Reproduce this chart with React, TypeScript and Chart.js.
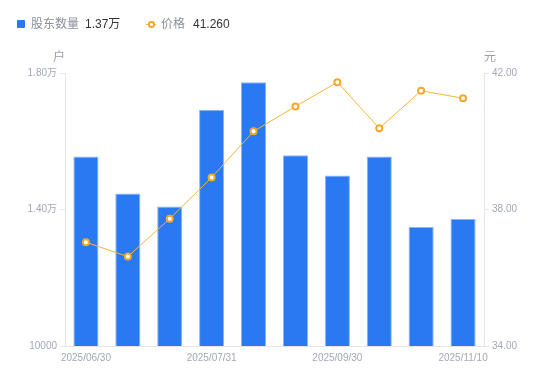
import React, { useEffect, useRef } from "react";
import { Chart, registerables } from "chart.js";

Chart.register(...registerables);

const categories = [
  "2025/06/30", "2025/07/10", "2025/07/20", "2025/07/31", "2025/08/15",
  "2025/08/31", "2025/09/30", "2025/10/20", "2025/10/31", "2025/11/10",
];
const holders = [15550, 14470, 14090, 16920, 17730, 15590, 15000, 15550, 13490, 13720];
const prices = [37.04, 36.62, 37.73, 38.94, 40.29, 41.02, 41.73, 40.38, 41.48, 41.26];
const leftTickLabels = ["10000", "1.40万", "1.80万"];
const rightTickLabels = ["34.00", "38.00", "42.00"];

const FONT = "'Liberation Sans', Arial, 'Noto Sans CJK SC', sans-serif";
const TICK_COLOR = "#a3a7b7";
const LINE_COLOR = "#e6e6ea";
const BAR_COLOR = "#2979f2";
const BAR_BORDER = "#8db6f7";
const PRICE_COLOR = "#f7b43f";
const POINT_COLOR = "#f5a82a";

export default function App() {
  const ref = useRef<HTMLCanvasElement | null>(null);

  useEffect(() => {
    document.body.style.margin = "0";
    if (!ref.current) return;
    const chart = new Chart(ref.current, {
      type: "bar",
      data: {
        labels: categories,
        datasets: [
          {
            type: "line",
            label: "价格",
            data: prices,
            yAxisID: "y1",
            borderColor: PRICE_COLOR,
            borderWidth: 1,
            pointRadius: 3,
            pointBorderWidth: 2,
            pointBackgroundColor: "#ffffff",
            pointBorderColor: POINT_COLOR,
            tension: 0,
            order: 0,
          } as any,
          {
            type: "bar",
            label: "股东数量",
            data: holders,
            yAxisID: "y",
            backgroundColor: BAR_COLOR,
            borderColor: BAR_BORDER,
            borderWidth: { top: 1, left: 1, right: 1, bottom: 0 },
            barPercentage: 0.6,
            categoryPercentage: 1,
            order: 1,
          } as any,
        ],
      },
      options: {
        animation: false,
        responsive: false,
        maintainAspectRatio: false,
        layout: { padding: { top: 73, left: 0, right: 0, bottom: 0 } },
        plugins: { legend: { display: false }, tooltip: { enabled: false } },
        scales: {
          x: {
            offset: true,
            grid: { display: false, drawTicks: false },
            border: { display: true, color: LINE_COLOR },
            ticks: {
              autoSkip: false,
              maxRotation: 0,
              color: TICK_COLOR,
              font: { family: FONT, size: 10 },
              padding: 6,
              callback: (_v: any, i: number) => (i % 3 === 0 ? categories[i] : ""),
            },
            afterFit: (s: any) => { s.height = 35; },
          },
          y: {
            position: "left",
            min: 10000,
            max: 18000,
            grid: { drawOnChartArea: false, drawTicks: true, tickLength: 5, color: LINE_COLOR },
            border: { display: true, color: LINE_COLOR },
            ticks: {
              stepSize: 4000,
              color: TICK_COLOR,
              font: { family: FONT, size: 10 },
              padding: 3,
              callback: (_v: any, i: number) => leftTickLabels[i],
            },
            afterFit: (s: any) => { s.width = 65; },
          },
          y1: {
            position: "right",
            min: 34,
            max: 42,
            grid: { drawOnChartArea: false, drawTicks: true, tickLength: 5, color: LINE_COLOR },
            border: { display: true, color: LINE_COLOR },
            ticks: {
              stepSize: 4,
              color: TICK_COLOR,
              font: { family: FONT, size: 10 },
              padding: 3,
              callback: (_v: any, i: number) => rightTickLabels[i],
            },
            afterFit: (s: any) => { s.width = 66; },
          },
        },
      },
    });
    return () => chart.destroy();
  }, []);

  const legendText: React.CSSProperties = { position: "absolute", top: 16, fontSize: 12, fontFamily: FONT, lineHeight: "16px" };

  return (
    <div style={{ position: "relative", width: 550, height: 381, background: "#fff" }}>
      <canvas ref={ref} width={550} height={381} style={{ position: "absolute", left: 0, top: 0 }} />
      <div style={{ position: "absolute", left: 17, top: 20, width: 8, height: 8, background: BAR_COLOR, borderRadius: 1 }} />
      <div style={{ ...legendText, left: 31, color: "#8a8e99" }}>股东数量</div>
      <div style={{ ...legendText, left: 85, color: "#333" }}>1.37万</div>
      <div style={{ position: "absolute", left: 146, top: 23.5, width: 10, height: 1, background: PRICE_COLOR }} />
      <div style={{ position: "absolute", left: 148, top: 21, width: 2.5, height: 2.5, border: `2px solid ${POINT_COLOR}`, borderRadius: "50%", background: "#fff" }} />
      <div style={{ ...legendText, left: 161, color: "#8a8e99" }}>价格</div>
      <div style={{ ...legendText, left: 193, color: "#333" }}>41.260</div>
      <div style={{ position: "absolute", left: 53, top: 49, fontSize: 12, fontFamily: FONT, color: "#9a9ea8", lineHeight: "16px" }}>户</div>
      <div style={{ position: "absolute", left: 484, top: 49, fontSize: 12, fontFamily: FONT, color: "#9a9ea8", lineHeight: "16px" }}>元</div>
    </div>
  );
}
